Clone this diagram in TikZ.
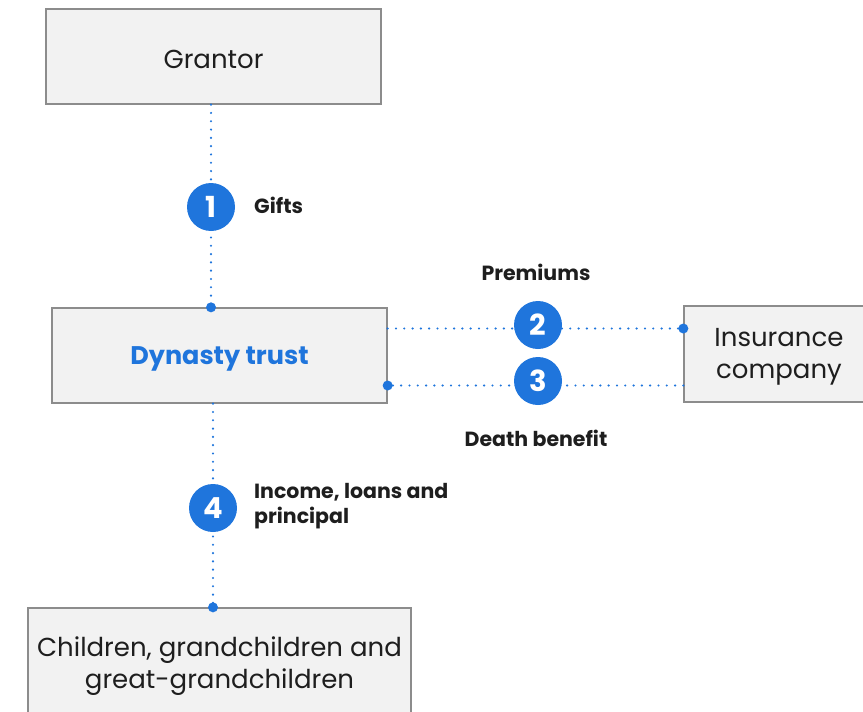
\documentclass[tikz,border=0pt]{standalone}
\usepackage{fontspec}
\setmainfont{Poppins}
\begin{document}
\definecolor{flowblue}{RGB}{31,117,220}
\definecolor{boxfill}{RGB}{242,242,242}
\definecolor{boxline}{RGB}{140,140,140}
\definecolor{ink}{RGB}{30,30,30}
\begin{tikzpicture}[x=1pt,y=-1pt,
  party/.style={draw=boxline, fill=boxfill, line width=1.3pt, inner sep=0pt},
  partytext/.style={align=center, inner sep=0pt, text=ink,
    font=\fontsize{26}{32}\selectfont},
  stepno/.style={circle, fill=flowblue, minimum size=48pt, inner sep=0pt,
    text=white, font=\fontsize{29}{29}\selectfont\bfseries},
  steplabel/.style={text=ink, font=\fontsize{20.5}{25}\selectfont\bfseries, inner sep=0pt},
  flow/.style={flowblue, line width=2.4pt, line cap=round, dash pattern=on 0pt off 8.3pt},
  enddot/.style={circle, fill=flowblue, minimum size=10pt, inner sep=0pt}]
\useasboundingbox (0,0) rectangle (863,712);
\clip (0,0) rectangle (863,712);

% parties
\node[party, minimum width=335pt, minimum height=95pt] (grantor) at (213.5,56.5) {};
\node[party, minimum width=335pt, minimum height=95pt] (trust) at (219.5,355.5) {};
\node[party, minimum width=190pt, minimum height=96pt] (ins) at (779,354) {};
\node[party, minimum width=383pt, minimum height=112pt] (kids) at (219.5,664) {};

\node[partytext] (grantortext) at ([yshift=-3pt]grantor.center) {Grantor};
\node[partytext, text=flowblue, font=\fontsize{25.5}{32}\selectfont\bfseries]
  (trusttext) at ([yshift=-3pt]trust.center) {Dynasty trust};
\node[partytext] (instext) at ([yshift=-3pt]ins.center) {Insurance\\company};
\node[partytext] (kidstext) at ([yshift=-2pt]kids.center)
  {Children, grandchildren and\\great-grandchildren};

% step markers
\coordinate (s1) at (211,207);
\coordinate (s2) at (538,325);
\coordinate (s3) at (538,381);
\coordinate (s4) at (213,508);

% flows
\coordinate (g1) at (grantor.south -| s1);
\coordinate (t1) at (trust.north -| s1);
\draw[flow] (g1) -- (t1);
\node[enddot] at (t1) {};

\coordinate (t2) at ([yshift=-3.5pt]s2 -| trust.east);
\coordinate (i2) at ([yshift=-3.5pt]s2 -| ins.west);
\draw[flow] (t2) -- (i2);
\node[enddot] at (i2) {};

\coordinate (i3) at ([yshift=-4.5pt]s3 -| ins.west);
\coordinate (t3) at ([yshift=-4.5pt]s3 -| trust.east);
\draw[flow] (i3) -- (t3);
\node[enddot] at (t3) {};

\coordinate (t4) at (trust.south -| s4);
\coordinate (k4) at (kids.north -| s4);
\draw[flow] (t4) -- (k4);
\node[enddot] at (k4) {};

\node[stepno] (n1) at (s1) {1};
\node[stepno] (n2) at (s2) {2};
\node[stepno] (n3) at (s3) {3};
\node[stepno] (n4) at (s4) {4};

% flow labels
\node[steplabel, anchor=west] (l1) at (254,205) {Gifts};
\node[steplabel] (l2) at (536,272) {Premiums};
\node[steplabel] (l3) at (536,438) {Death benefit};
\node[steplabel, anchor=west, align=left] (l4) at (254,506) {Income, loans and\\principal};
\end{tikzpicture}
\end{document}
